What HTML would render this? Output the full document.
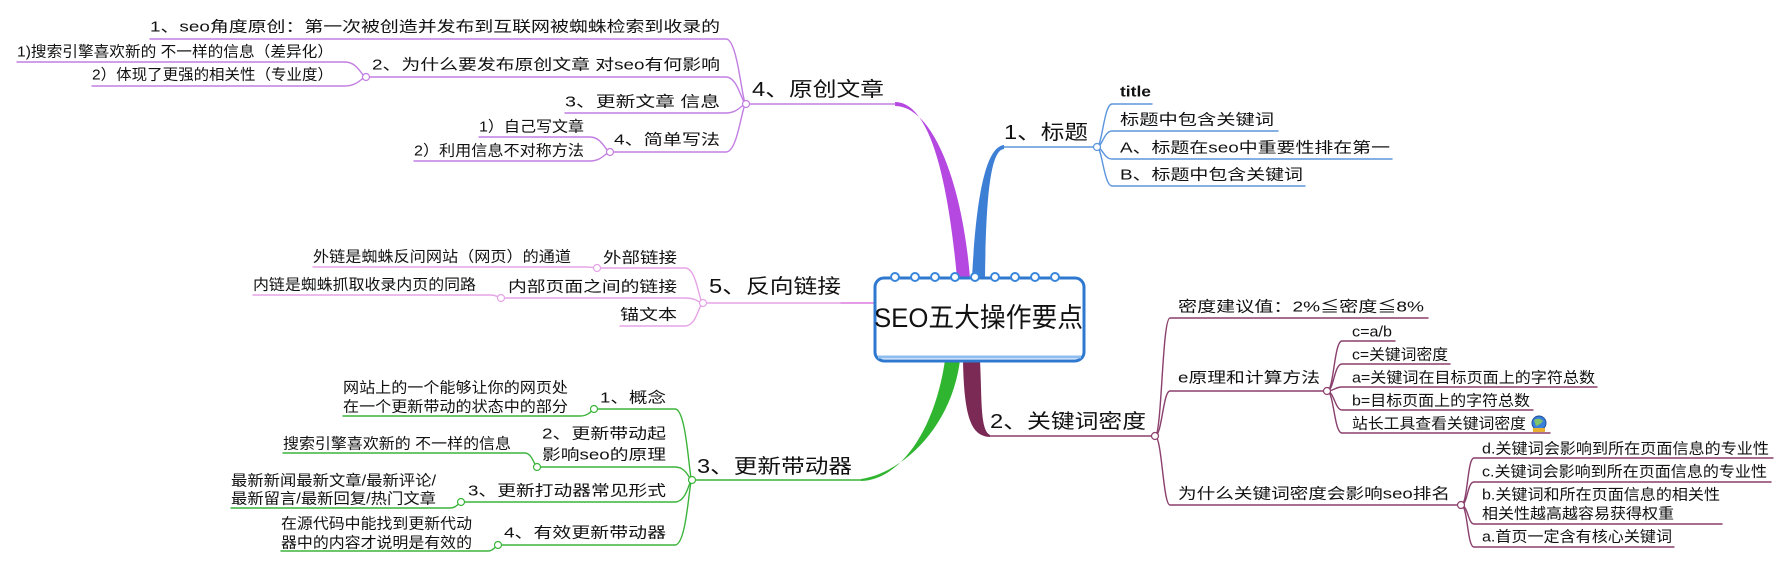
<!DOCTYPE html>
<html><head><meta charset="utf-8"><style>
html,body{margin:0;padding:0;background:#fff;}
svg{display:block}
text{font-family:"Liberation Sans","Noto Sans CJK SC",sans-serif;fill:#111;dominant-baseline:central;}
.s{font-size:15px}
.m{font-size:20px}
</style></head><body>
<svg width="1788" height="567" viewBox="0 0 1788 567" xmlns="http://www.w3.org/2000/svg">
<g fill="none" stroke-linecap="round">
<!-- thick branches -->
<path d="M895 102 C930 102 948 180 957 278 L970 278 C962 180 932 106 895 106 Z" fill="#b548e0" stroke="none"/>
<path d="M1004 145 C985 147 976 200 972 278 L985 278 C986 200 990 150 1004 149 Z" fill="#3e7fd6" stroke="none"/>
<path d="M963 360 C964 420 972 436 990 437 L990 435 C980 430 982 400 980 360 Z" fill="#7a2a55" stroke="none"/>
<path d="M945 360 C935 430 900 480 861 481 L861 479 C905 472 952 425 960 360 Z" fill="#2fb52f" stroke="none"/>
<path d="M841 303 L876 303" stroke="#e69be6" stroke-width="2"/>

<!-- purple branch 4 -->
<g stroke="#c27ee2" stroke-width="1.4">
<path d="M746 104 L895 104"/>
<path d="M150 39 L726 39 C738 39 742 104 746 104"/>
<path d="M366 77 L726 77 C738 77 742 104 746 104"/>
<path d="M565 113 L726 113 C738 113 742 104 746 104"/>
<path d="M610 152 L726 152 C738 152 742 104 746 104"/>
<path d="M17 62 L345 62 C358 62 362 77 366 77"/>
<path d="M92 86 L345 86 C358 86 362 77 366 77"/>
<path d="M479 137 L590 137 C602 137 606 152 610 152"/>
<path d="M414 161 L590 161 C602 161 606 152 610 152"/>
</g>
<!-- pink branch 5 -->
<g stroke="#e6a4e6" stroke-width="1.4">
<path d="M703 303 L841 303"/>
<path d="M597 268 L685 268 C697 268 699 303 703 303"/>
<path d="M501 298 L685 298 C697 298 699 303 703 303"/>
<path d="M620 326 L685 326 C697 326 699 303 703 303"/>
<path d="M313 267 L585 267 C593 267 595 268 597 268"/>
<path d="M253 295 L490 295 C497 295 499 298 501 298"/>
</g>
<!-- green branch 3 -->
<g stroke="#3cb43c" stroke-width="1.4">
<path d="M692 480 L861 480"/>
<path d="M594 409 L675 409 C687 409 689 480 692 480"/>
<path d="M537 467 L675 467 C687 467 689 480 692 480"/>
<path d="M461 502 L675 502 C687 502 689 480 692 480"/>
<path d="M498 545 L675 545 C687 545 689 480 692 480"/>
<path d="M343 416 L580 416 C590 416 592 409 594 409"/>
<path d="M283 453 L525 453 C532 453 535 467 537 467"/>
<path d="M231 508 L450 508 C457 508 459 502 461 502"/>
<path d="M281 551 L488 551 C494 551 496 545 498 545"/>
</g>
<!-- blue branch 1 -->
<g stroke="#5b95dc" stroke-width="1.4">
<path d="M1004 147 L1097 147"/>
<path d="M1097 147 C1102 147 1104 104 1112 104 L1152 104"/>
<path d="M1097 147 C1102 147 1104 131 1112 131 L1278 131"/>
<path d="M1097 147 C1102 147 1104 159 1112 159 L1392 159"/>
<path d="M1097 147 C1102 147 1104 186 1112 186 L1305 186"/>
</g>
<!-- maroon branch 2 -->
<g stroke="#8a3f6c" stroke-width="1.4">
<path d="M990 436 L1155 436"/>
<path d="M1155 436 C1162 436 1162 318 1170 318 L1428 318"/>
<path d="M1155 436 C1162 436 1163 391 1170 391 L1327 391"/>
<path d="M1155 436 C1162 436 1163 505 1170 505 L1461 505"/>
<path d="M1327 391 C1334 391 1334 341 1342 341 L1395 341"/>
<path d="M1327 391 C1334 391 1334 364 1342 364 L1450 364"/>
<path d="M1327 391 C1334 391 1335 387 1342 387 L1597 387"/>
<path d="M1327 391 C1334 391 1335 410 1342 410 L1533 410"/>
<path d="M1327 391 C1334 391 1334 433 1342 433 L1550 433"/>
<path d="M1461 505 C1468 505 1467 458 1474 458 L1773 458"/>
<path d="M1461 505 C1468 505 1467 482 1474 482 L1771 482"/>
<path d="M1461 505 C1468 505 1468 524 1474 524 L1722 524"/>
<path d="M1461 505 C1468 505 1467 547 1474 547 L1674 547"/>
</g>
</g>
<!-- nodes -->
<g fill="#fff" stroke-width="1.2">
<circle cx="746" cy="104" r="3.5" stroke="#c27ee2"/>
<circle cx="366" cy="77" r="3.5" stroke="#c27ee2"/>
<circle cx="610" cy="152" r="3.5" stroke="#c27ee2"/>
<circle cx="703" cy="303" r="3.5" stroke="#e6a4e6"/>
<circle cx="597" cy="268" r="3.5" stroke="#e6a4e6"/>
<circle cx="501" cy="298" r="3.5" stroke="#e6a4e6"/>
<circle cx="692" cy="480" r="3.5" stroke="#3cb43c"/>
<circle cx="594" cy="409" r="3.5" stroke="#3cb43c"/>
<circle cx="537" cy="467" r="3.5" stroke="#3cb43c"/>
<circle cx="461" cy="502" r="3.5" stroke="#3cb43c"/>
<circle cx="498" cy="545" r="3.5" stroke="#3cb43c"/>
<circle cx="1097" cy="147" r="3.5" stroke="#5b95dc"/>
<circle cx="1155" cy="436" r="3.5" stroke="#8a3f6c"/>
<circle cx="1327" cy="391" r="3.5" stroke="#8a3f6c"/>
<circle cx="1461" cy="505" r="3.5" stroke="#8a3f6c"/>
</g>

<!-- center box -->
<rect x="875" y="278" width="209" height="83" rx="9" fill="#fff" stroke="#2f78d0" stroke-width="3"/>
<path d="M878 357 L1081 357" stroke="#8fbdf0" stroke-width="3"/>
<g fill="#fff" stroke="#3a86dc" stroke-width="2">
<circle cx="895" cy="277" r="4"/><circle cx="915" cy="277" r="4"/><circle cx="935" cy="277" r="4"/>
<circle cx="955" cy="277" r="4"/><circle cx="975" cy="277" r="4"/><circle cx="995" cy="277" r="4"/>
<circle cx="1015" cy="277" r="4"/><circle cx="1035" cy="277" r="4"/><circle cx="1055" cy="277" r="4"/>
</g>
<text x="874" y="318" style="font-size:27px" textLength="209" lengthAdjust="spacingAndGlyphs">SEO五大操作要点</text>

<!-- main labels -->
<text class="m" x="752" y="90" textLength="132" lengthAdjust="spacingAndGlyphs">4、原创文章</text>
<text class="m" x="709" y="287" textLength="132" lengthAdjust="spacingAndGlyphs">5、反向链接</text>
<text class="m" x="697" y="467" textLength="155" lengthAdjust="spacingAndGlyphs">3、更新带动器</text>
<text class="m" x="1004" y="133" textLength="84" lengthAdjust="spacingAndGlyphs">1、标题</text>
<text class="m" x="990" y="422" textLength="156" lengthAdjust="spacingAndGlyphs">2、关键词密度</text>

<!-- branch 4 children -->
<text class="s" x="150" y="27" textLength="570" lengthAdjust="spacingAndGlyphs">1、seo角度原创：第一次被创造并发布到互联网被蜘蛛检索到收录的</text>
<text class="s" x="372" y="65" textLength="348" lengthAdjust="spacingAndGlyphs">2、为什么要发布原创文章 对seo有何影响</text>
<text class="s" x="565" y="102" textLength="155" lengthAdjust="spacingAndGlyphs">3、更新文章  信息</text>
<text class="s" x="614" y="140" textLength="106" lengthAdjust="spacingAndGlyphs">4、简单写法</text>
<text class="s" x="17" y="52" textLength="316" lengthAdjust="spacingAndGlyphs">1)搜索引擎喜欢新的 不一样的信息（差异化）</text>
<text class="s" x="92" y="75" textLength="241" lengthAdjust="spacingAndGlyphs">2）体现了更强的相关性（专业度）</text>
<text class="s" x="479" y="127" textLength="105" lengthAdjust="spacingAndGlyphs">1）自己写文章</text>
<text class="s" x="414" y="151" textLength="170" lengthAdjust="spacingAndGlyphs">2）利用信息不对称方法</text>

<!-- branch 5 children -->
<text class="s" x="603" y="258" textLength="74" lengthAdjust="spacingAndGlyphs">外部链接</text>
<text class="s" x="508" y="287" textLength="169" lengthAdjust="spacingAndGlyphs">内部页面之间的链接</text>
<text class="s" x="620" y="315" textLength="57" lengthAdjust="spacingAndGlyphs">锚文本</text>
<text class="s" x="313" y="257" textLength="258" lengthAdjust="spacingAndGlyphs">外链是蜘蛛反问网站（网页）的通道</text>
<text class="s" x="253" y="285" textLength="223" lengthAdjust="spacingAndGlyphs">内链是蜘蛛抓取收录内页的同路</text>

<!-- branch 3 children -->
<text class="s" x="600" y="398" textLength="66" lengthAdjust="spacingAndGlyphs">1、概念</text>
<text class="s" x="542" y="434" textLength="124" lengthAdjust="spacingAndGlyphs">2、更新带动起</text>
<text class="s" x="542" y="455" textLength="124" lengthAdjust="spacingAndGlyphs">影响seo的原理</text>
<text class="s" x="468" y="491" textLength="198" lengthAdjust="spacingAndGlyphs">3、更新打动器常见形式</text>
<text class="s" x="504" y="533" textLength="162" lengthAdjust="spacingAndGlyphs">4、有效更新带动器</text>
<text class="s" x="343" y="388" textLength="225" lengthAdjust="spacingAndGlyphs">网站上的一个能够让你的网页处</text>
<text class="s" x="343" y="407" textLength="225" lengthAdjust="spacingAndGlyphs">在一个更新带动的状态中的部分</text>
<text class="s" x="283" y="444" textLength="228" lengthAdjust="spacingAndGlyphs">搜索引擎喜欢新的 不一样的信息</text>
<text class="s" x="231" y="481" textLength="205" lengthAdjust="spacingAndGlyphs">最新新闻最新文章/最新评论/</text>
<text class="s" x="231" y="499" textLength="205" lengthAdjust="spacingAndGlyphs">最新留言/最新回复/热门文章</text>
<text class="s" x="281" y="524" textLength="191" lengthAdjust="spacingAndGlyphs">在源代码中能找到更新代动</text>
<text class="s" x="281" y="543" textLength="191" lengthAdjust="spacingAndGlyphs">器中的内容才说明是有效的</text>

<!-- branch 1 children -->
<text class="s" x="1120" y="92" style="font-weight:bold" textLength="31" lengthAdjust="spacingAndGlyphs">title</text>
<text class="s" x="1120" y="120" textLength="154" lengthAdjust="spacingAndGlyphs">标题中包含关键词</text>
<text class="s" x="1120" y="148" textLength="270" lengthAdjust="spacingAndGlyphs">A、标题在seo中重要性排在第一</text>
<text class="s" x="1120" y="175" textLength="183" lengthAdjust="spacingAndGlyphs">B、标题中包含关键词</text>

<!-- branch 2 children -->
<text class="s" x="1178" y="307" textLength="246" lengthAdjust="spacingAndGlyphs">密度建议值：2%≦密度≦8%</text>
<text class="s" x="1178" y="378" textLength="142" lengthAdjust="spacingAndGlyphs">e原理和计算方法</text>
<text class="s" x="1178" y="494" textLength="272" lengthAdjust="spacingAndGlyphs">为什么关键词密度会影响seo排名</text>
<text class="s" x="1352" y="332" textLength="40" lengthAdjust="spacingAndGlyphs">c=a/b</text>
<text class="s" x="1352" y="355" textLength="96" lengthAdjust="spacingAndGlyphs">c=关键词密度</text>
<text class="s" x="1352" y="378" textLength="243" lengthAdjust="spacingAndGlyphs">a=关键词在目标页面上的字符总数</text>
<text class="s" x="1352" y="401" textLength="178" lengthAdjust="spacingAndGlyphs">b=目标页面上的字符总数</text>
<text class="s" x="1352" y="424" textLength="174" lengthAdjust="spacingAndGlyphs">站长工具查看关键词密度</text>
<circle cx="1539" cy="423" r="7" fill="#3a7fd8" stroke="#1d4f9a" stroke-width="1"/>
<path d="M1534 420 Q1539 417 1543 421 Q1540 425 1536 426 Z" fill="#7fc46a"/>
<rect x="1533" y="428" width="12" height="4" fill="#e8b030"/>
<text class="s" x="1482" y="449" textLength="287" lengthAdjust="spacingAndGlyphs">d.关键词会影响到所在页面信息的专业性</text>
<text class="s" x="1482" y="472" textLength="285" lengthAdjust="spacingAndGlyphs">c.关键词会影响到所在页面信息的专业性</text>
<text class="s" x="1482" y="495" textLength="238" lengthAdjust="spacingAndGlyphs">b.关键词和所在页面信息的相关性</text>
<text class="s" x="1482" y="514" textLength="192" lengthAdjust="spacingAndGlyphs">相关性越高越容易获得权重</text>
<text class="s" x="1482" y="537" textLength="190" lengthAdjust="spacingAndGlyphs">a.首页一定含有核心关键词</text>
</svg>
</body></html>
